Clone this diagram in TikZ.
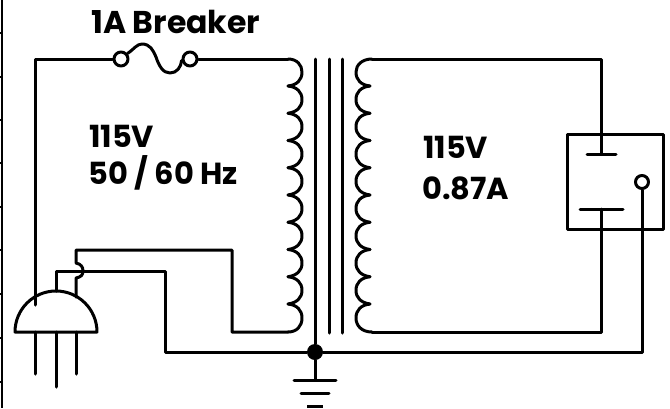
\documentclass[tikz,border=0pt]{standalone}
\usepackage{fontspec}
\setmainfont{Poppins}
\tikzset{
  wire/.style={line width=3pt,line cap=round,line join=round},
  edgeln/.style={line width=2pt},
  pin/.style={wire,circle,draw,fill=white,inner sep=0pt,minimum size=14pt},
  lbl/.style={inner sep=0pt,font=\bfseries\fontsize{30.5}{36}\selectfont,anchor=base west}
}
\begin{document}
\begin{tikzpicture}[x=1pt,y=-1pt]
\path[use as bounding box] (0,0) rectangle (670,408);
\fill[white] (0,0) rectangle (670,408);
% left edge rule
\draw[edgeln] (2,0) -- (2,408);
\foreach \y in {33,77,120,163,207,250,294,338,382} \draw[line width=1.2pt] (0,\y) -- (3,\y);
% texts
\node[lbl,font=\bfseries\fontsize{31.5}{36}\selectfont] (t1) at (91,33) {1A Breaker};
\node[lbl] (t2) at (89,147) {115V};
\node[lbl] (t3) at (88,184) {50 / 60 Hz};
\node[lbl] (t4) at (423,158) {115V};
\node[lbl] (t5) at (422,199) {0.87A};
% coordinates
\coordinate (plugL) at (35,305);
\coordinate (corner1) at (35,59);
\node[pin] (fa) at (121,59) {};
\node[pin] (fb) at (190,59) {};
\coordinate (pritop) at (288,59);
\coordinate (pribot) at (288,332);
\coordinate (sectop) at (372,59);
\coordinate (secbot) at (372,332);
\node[circle,fill=black,inner sep=0pt,minimum size=16pt] (junc) at (315,352) {};
\node[pin,minimum size=13pt] (lamp) at (642,182) {};
% mains wiring
\draw[wire] (plugL) -- (corner1) -- (fa);
\draw[wire] (fa.40) .. controls (134,49) and (137,44) .. (142,44) .. controls (150,44) and (153,50) .. (156,57) .. controls (159,66) and (163,73) .. (170,73) .. controls (177,73) and (181,67) .. (fb.190);
\draw[wire] (fb) -- (pritop);
% primary coil
\draw[wire] (pritop) .. controls (297,59) and (302,65) .. (302,72) .. controls (302,80) and (297,85) .. (288,86);
\foreach \i in {0,...,7}{
  \pgfmathsetmacro\a{86+\i*27.25}
  \draw[wire] (288,\a) .. controls (297,\a+1) and (302,\a+6) .. (302,\a+13.6) .. controls (302,\a+21) and (297,\a+26) .. (288,\a+27.25);
}
\draw[wire] (288,304) .. controls (297,305) and (302,310) .. (302,318) .. controls (302,326) and (297,332) .. (pribot);
% secondary coil
\draw[wire] (sectop) .. controls (362,59) and (356,65) .. (356,72) .. controls (356,80) and (361,85) .. (370,86);
\foreach \i in {0,...,7}{
  \pgfmathsetmacro\a{86+\i*27.25}
  \draw[wire] (370,\a) .. controls (361,\a+1) and (356,\a+6) .. (356,\a+13.6) .. controls (356,\a+21) and (361,\a+26) .. (370,\a+27.25);
}
\draw[wire] (370,304) .. controls (361,305) and (356,310) .. (356,318) .. controls (356,326) and (362,332) .. (secbot);
% core
\draw[wire] (315,59) -- (junc);
\draw[wire] (329,59) -- (329,333);
\draw[wire] (342,59) -- (342,333);
% ground
\draw[wire] (junc) -- (315,380);
\draw[wire] (294,380) -- (336,380);
\draw[wire] (301,393) -- (329,393);
\draw[wire,line cap=butt] (307,406) -- (323,406);
% plug
\draw[wire] (15,332) arc (180:360:41) -- cycle;
\draw[wire] (35,332) -- (35,374);
\draw[wire] (56,332) -- (56,387);
\draw[wire] (76,332) -- (76,374);
% plug wiring
\draw[wire] (76,297) -- (76,278) .. controls (81,277) and (83,275) .. (83,271) .. controls (83,267) and (81,264) .. (76,263) -- (76,250) -- (232,250) -- (232,332) -- (pribot);
\draw[wire] (56,291) -- (56,271) -- (165,271) -- (165,352) -- (junc) -- (642,352) -- (lamp);
% switch box
\draw[wire] (567,134) rectangle (663,229);
\draw[wire] (sectop) -- (601,59) -- (601,154);
\draw[wire] (587,154) -- (616,154);
\draw[wire] (580,209) -- (623,209);
\draw[wire] (601,209) -- (601,332) -- (secbot);
\end{tikzpicture}
\end{document}
